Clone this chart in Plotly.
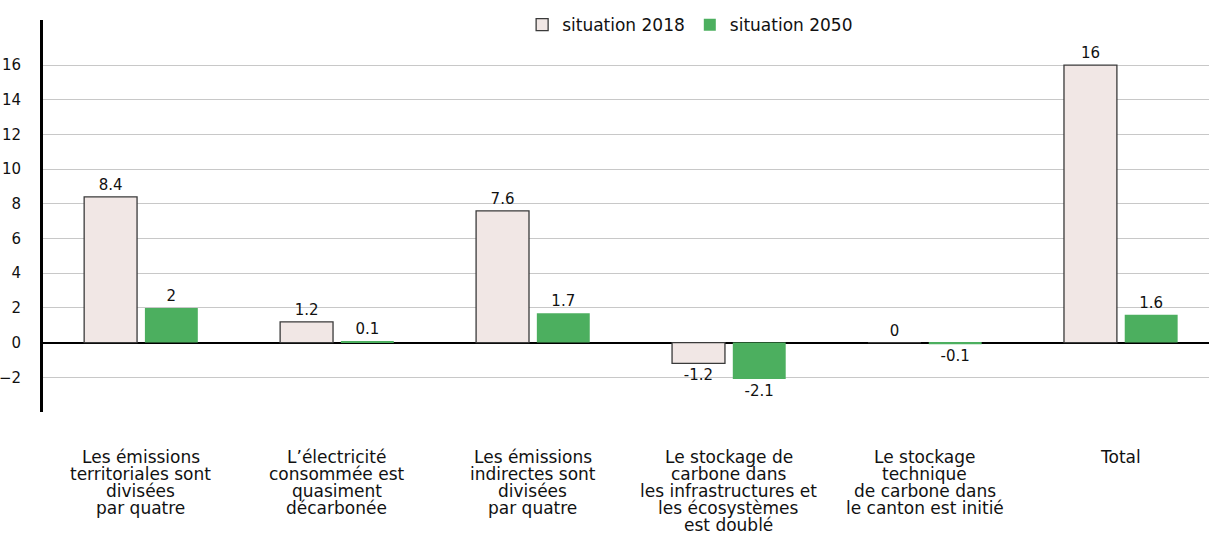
import plotly.graph_objects as go

categories = [
    "Les émissions<br>territoriales sont<br>divisées<br>par quatre",
    "L’électricité<br>consommée est<br>quasiment<br>décarbonée",
    "Les émissions<br>indirectes sont<br>divisées<br>par quatre",
    "Le stockage de<br>carbone dans<br>les infrastructures et<br>les écosystèmes<br>est doublé",
    "Le stockage<br>technique<br>de carbone dans<br>le canton est initié",
    "Total",
]
values_2018 = [8.4, 1.2, 7.6, -1.2, 0, 16]
values_2050 = [2, 0.1, 1.7, -2.1, -0.1, 1.6]
series_names = ["situation 2018", "situation 2050"]
y_ticks = [-2, 0, 2, 4, 6, 8, 10, 12, 14, 16]

FONT = "DejaVu Sans"

fig = go.Figure()
fig.add_trace(go.Bar(
    x=categories, y=values_2018, name=series_names[0],
    width=0.27, offset=-0.29,
    marker=dict(color="#f1e7e5", line=dict(color="#3a3a3a", width=1.3)),
    text=[f"{v:g}" for v in values_2018], textposition="outside",
    textfont=dict(family=FONT, size=15, color="#111"),
    cliponaxis=False,
))
fig.add_trace(go.Bar(
    x=categories, y=values_2050, name=series_names[1],
    width=0.27, offset=0.02,
    marker=dict(color="#4caf5f", line=dict(width=0)),
    text=[f"{v:g}" for v in values_2050], textposition="outside",
    textfont=dict(family=FONT, size=15, color="#111"),
    cliponaxis=False,
))

annotations = []
for cat in categories:
    for j, line in enumerate(cat.split("<br>")):
        annotations.append(dict(
            x=cat, xref="x", y=0, yref="paper",
            text=line, showarrow=False,
            xanchor="center", yanchor="middle",
            yshift=-45 - 17.0 * j,
            font=dict(family=FONT, size=17, color="#111"),
        ))

fig.update_layout(
    width=1209, height=534,
    margin=dict(l=43, r=0, t=20, b=122, autoexpand=False),
    plot_bgcolor="white", paper_bgcolor="white",
    font=dict(family=FONT, color="#111"),
    showlegend=True,
    legend=dict(
        orientation="h", x=0.555, xanchor="center", y=0.987, yanchor="middle",
        font=dict(family=FONT, size=17, color="#111"),
        bgcolor="rgba(0,0,0,0)", traceorder="normal",
    ),
    annotations=annotations,
    xaxis=dict(
        type="category", range=[-0.5, 5.45], showticklabels=False,
        showgrid=False, showline=False, ticks="", automargin=False,
    ),
    yaxis=dict(
        range=[-4, 18.6], tickvals=y_ticks, showgrid=True,
        gridcolor="#c8c8c8", gridwidth=1,
        zeroline=True, zerolinecolor="black", zerolinewidth=2,
        showline=True, linecolor="black", linewidth=3,
        ticks="", ticklabelstandoff=16, automargin=False,
        tickfont=dict(family=FONT, size=15, color="#111"),
    ),
)

fig.write_html(
    "out.html",
    config={"displayModeBar": False},
    post_script="document.body.style.margin='0px';document.body.style.overflow='hidden';",
)
